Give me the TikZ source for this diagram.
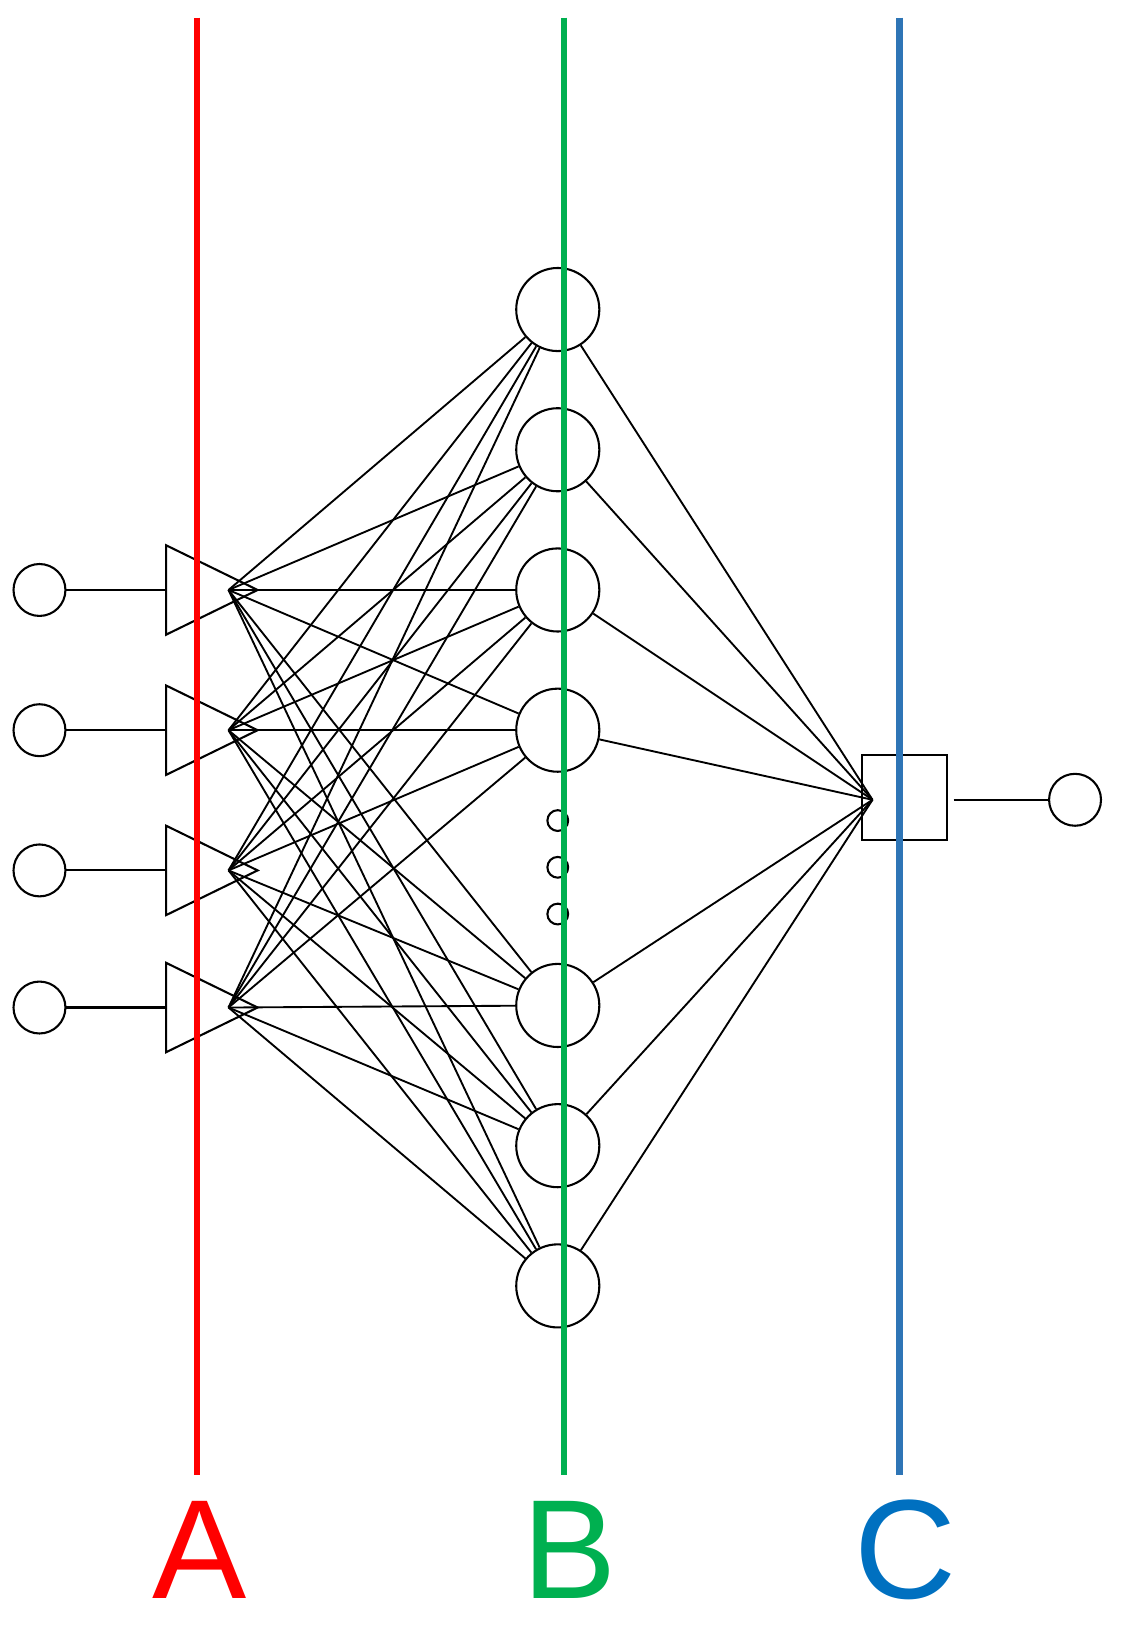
\documentclass[tikz,border=0pt]{standalone}
\usepackage{fontspec}
\setmainfont{Liberation Sans}
\begin{document}
\begin{tikzpicture}[x=0.5pt,y=-0.5pt,
  lin/.style={line width=0.9pt,black},
  inp/.style={circle,draw,line width=1pt,minimum size=25pt,inner sep=0pt},
  hid/.style={circle,draw,line width=1pt,minimum size=40pt,inner sep=0pt},
  dotc/.style={circle,draw,line width=1pt,minimum size=10pt,inner sep=0pt},
  lab/.style={font=\fontsize{68}{72}\selectfont,inner sep=0pt}]
\useasboundingbox (0,0) rectangle (1080,1577);
\definecolor{cA}{HTML}{FF0000}
\definecolor{cB}{HTML}{00B050}
\definecolor{cC}{HTML}{2E75B6}
\definecolor{cCt}{HTML}{0070C0}
% inputs and triangles
\foreach \i/\y in {1/568,2/703,3/838,4/970}{
  \node[inp] (in\i) at (38,\y) {};
  \coordinate (ta\i) at (160,\y-43);
  \coordinate (tb\i) at (160,\y+43);
  \coordinate (tc\i) at (248,\y);
  \coordinate (t\i) at (160,\y);
  \coordinate (o\i) at (220,\y);
  \draw[line width=1pt] (ta\i) -- (tb\i) -- (tc\i) -- cycle;
  \draw[line width=1pt] (in\i) -- (t\i);
}
% hidden
\foreach \j/\y in {1/298,2/433,3/568,4/703,5/968,6/1103,7/1238}{
  \node[hid] (h\j) at (537,\y) {};
}
\node[dotc] (d1) at (537,790) {};
\node[dotc] (d2) at (537,835) {};
\node[dotc] (d3) at (537,880) {};
% output
\node[draw,line width=1pt,minimum width=41pt,minimum height=41pt,inner sep=0pt] (box) at (871,768) {};
\node[inp] (out) at (1035,770) {};
\coordinate (bx) at (918,770);
\draw[line width=1pt] (bx) -- (out);
\coordinate (bw) at (840,770);
% connections
\foreach \i in {1,...,4}{
  \foreach \j in {1,...,7}{
    \draw[lin] (o\i) -- (h\j);
  }
}
\foreach \j in {1,...,7}{ \draw[lin] (h\j) -- (bw); }
% coloured lines
\coordinate (A1) at (190,17); \coordinate (A2) at (190,1420);
\coordinate (B1) at (543,17); \coordinate (B2) at (543,1420);
\coordinate (C1) at (866,17); \coordinate (C2) at (866,1420);
\draw[cA,line width=3pt] (A1) -- (A2);
\draw[cB,line width=3pt] (B1) -- (B2);
\draw[cC,line width=3pt] (C1) -- (C2);
\node[lab,text=cA] (la) at (192,1492) {A};
\node[lab,text=cB] (lb) at (548,1492) {B};
\node[lab,text=cCt] (lc) at (872,1492) {C};
\end{tikzpicture}
\end{document}
